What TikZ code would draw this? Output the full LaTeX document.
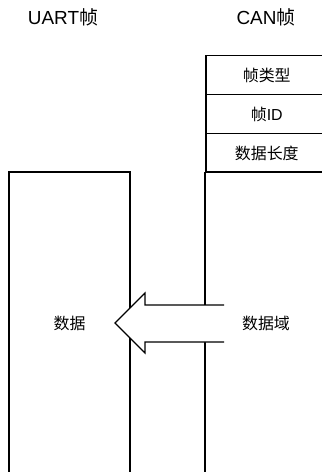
\documentclass[tikz,border=0pt]{standalone}
\usepackage{fontspec}
\setmainfont{Liberation Sans}
\newfontfamily\cjk{Noto Sans CJK SC}
\tikzset{
  field/.style={draw,line width=1.5bp,minimum width=122bp,inner sep=0pt,font=\fontsize{16}{19}\selectfont},
  title/.style={font=\fontsize{19}{23}\selectfont}
}
\begin{document}
\begin{tikzpicture}[x=1bp,y=-1bp]
\useasboundingbox (0,0) rectangle (321,472);
% titles
\node[title] (uarttitle) at (63,17) {UART{\cjk 帧}};
\node[title] (cantitle) at (266,17) {CAN{\cjk 帧}};
% CAN frame
\node[field,minimum height=39bp,anchor=north west] (type) at (205,55) {\cjk 帧类型};
\node[field,minimum height=39bp,anchor=north west] (id) at (205,94) {{\cjk 帧}ID};
\node[field,minimum height=39bp,anchor=north west] (len) at (205,133) {\cjk 数据长度};
\draw[line width=1.5bp] (205,172) -- (205,480);
\draw[line width=1.5bp] (205,172) -- (330,172);
% UART frame
\draw[line width=1.5bp] (9,480) -- (9,172) -- (130,172) -- (130,480);
% arrow
\fill[white] (224,305) -- (145,305) -- (145,293) -- (115,323) -- (145,353) -- (145,342) -- (224,342) -- cycle;
\draw[line width=1.2bp] (224,305) -- (145,305) -- (145,293) -- (115,323) -- (145,353) -- (145,342) -- (224,342);
\node[font=\fontsize{16}{19}\selectfont] (data) at (69.5,323) {\cjk 数据};
\node[font=\fontsize{16}{19}\selectfont] (datafield) at (266,323) {\cjk 数据域};
\end{tikzpicture}
\end{document}
